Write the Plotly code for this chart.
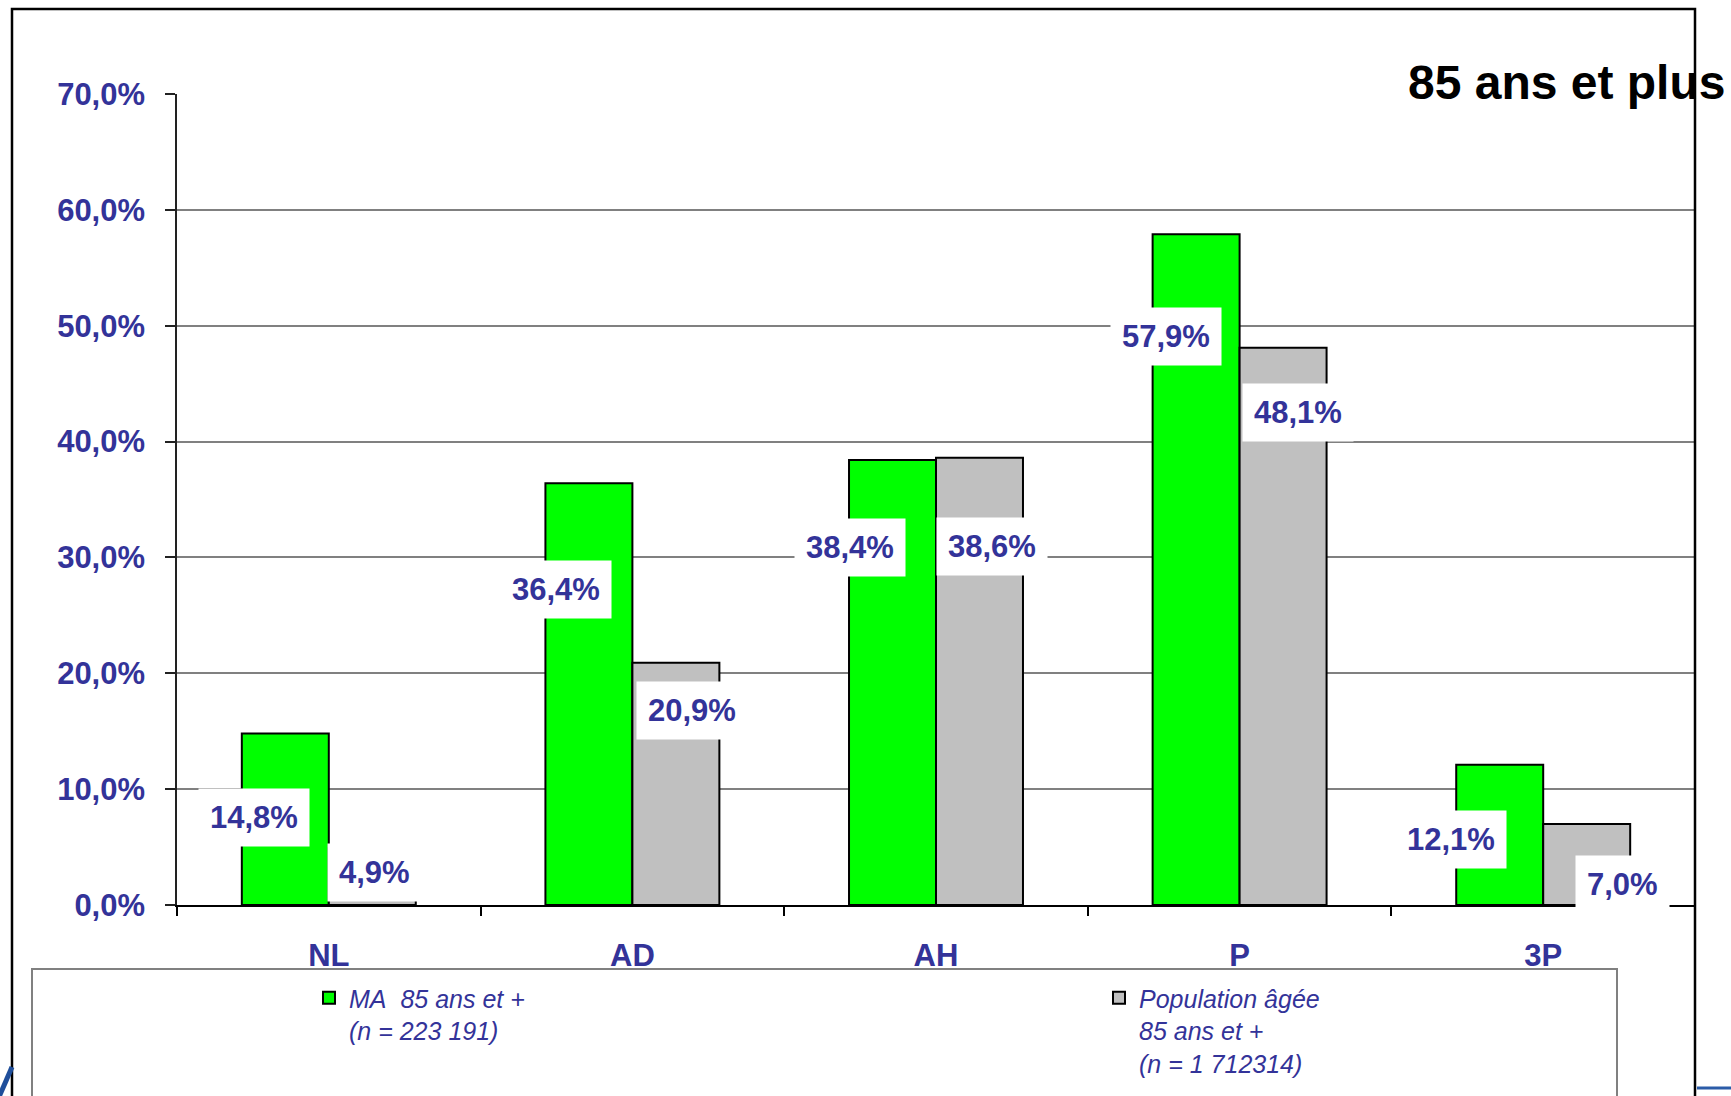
import plotly.graph_objects as go

# ---------------- data ----------------
categories = ["NL", "AD", "AH", "P", "3P"]
ma_85 = [14.8, 36.4, 38.4, 57.9, 12.1]          # MA 85 ans et +
pop_85 = [4.9, 20.9, 38.6, 48.1, 7.0]           # Population âgée 85 ans et +
series_names = [
    "MA\u00a0 85 ans et +<br>(n = 223 191)",
    "Population âgée<br>85 ans et +<br>(n = 1 712314)",
]
y_tick_values = [0, 10, 20, 30, 40, 50, 60, 70]
chart_title = "85 ans et plus"

# label placement (pixel offsets from the top of each bar's category centre)
ma_label_dx = [-75, -76, -86, -74, -92]
ma_label_dy = [-84, -106, -87, -102, -75]
pop_label_dx = [46, 60, 56, 58, 79]
pop_label_dy = [-24, -48, -89, -65, -61]

# ---------------- layout geometry ----------------
W, H = 1731, 1096
ML, MR, MT, MB = 177, 36, 94, 191
PW = W - ML - MR
PH = H - MT - MB


def px(x):
    return (x - ML) / PW


def py(y):
    return (H - MB - y) / PH


FONT = "Liberation Sans, Arial, sans-serif"
BLUE = "#333399"


def fmt(v):
    return f"{v:.1f}".replace(".", ",") + "%"


fig = go.Figure()
fig.add_trace(go.Bar(
    x=categories, y=ma_85, name=series_names[0],
    marker=dict(color="#00FF00", line=dict(color="black", width=2)),
    legend="legend",
))
fig.add_trace(go.Bar(
    x=categories, y=pop_85, name=series_names[1],
    marker=dict(color="#C0C0C0", line=dict(color="black", width=2)),
    legend="legend2",
))

annotations = []
for cat, v, dx, dy in zip(categories, ma_85, ma_label_dx, ma_label_dy):
    annotations.append(dict(
        x=cat, y=v, xref="x", yref="y", text=f"<b>{fmt(v)}</b>",
        showarrow=False, xshift=dx, yshift=dy,
        font=dict(family=FONT, size=31, color=BLUE),
        bgcolor="white", borderpad=11,
    ))
for cat, v, dx, dy in zip(categories, pop_85, pop_label_dx, pop_label_dy):
    annotations.append(dict(
        x=cat, y=v, xref="x", yref="y", text=f"<b>{fmt(v)}</b>",
        showarrow=False, xshift=dx, yshift=dy,
        font=dict(family=FONT, size=31, color=BLUE),
        bgcolor="white", borderpad=11,
    ))
annotations.append(dict(
    x=px(1406), y=py(82), xref="paper", yref="paper",
    xanchor="left", yanchor="middle", showarrow=False,
    text=f"<b>{chart_title}</b>",
    font=dict(family=FONT, size=48, color="black"),
))

shapes = [
    # outer slide frame
    dict(type="rect", xref="paper", yref="paper",
         x0=px(12), x1=px(1695), y0=py(9), y1=py(1160),
         line=dict(color="black", width=2.5), fillcolor="rgba(0,0,0,0)",
         layer="above"),
    # legend frame
    dict(type="rect", xref="paper", yref="paper",
         x0=px(32), x1=px(1617), y0=py(969), y1=py(1160),
         line=dict(color="#808080", width=2), fillcolor="rgba(0,0,0,0)",
         layer="above"),
    # fragments of slide decoration
    dict(type="line", xref="paper", yref="paper",
         x0=px(1697), x1=px(1735), y0=py(1088), y1=py(1088),
         line=dict(color="#2b5ca8", width=3)),
    dict(type="line", xref="paper", yref="paper",
         x0=px(-1), x1=px(12), y0=py(1097), y1=py(1067),
         line=dict(color="#1f4e9a", width=5)),
]

legend_common = dict(
    font=dict(family=FONT, size=25, color=BLUE, style="italic"),
    bgcolor="rgba(0,0,0,0)", borderwidth=0, valign="top",
    itemwidth=30, xanchor="left", yanchor="top",
    itemclick=False, itemdoubleclick=False,
)

fig.update_layout(
    width=W, height=H, autosize=False,
    margin=dict(l=ML, r=MR, t=MT, b=MB, pad=0, autoexpand=False),
    paper_bgcolor="white", plot_bgcolor="white",
    separators=", ",
    barmode="group", bargap=0.427, bargroupgap=0,
    showlegend=True,
    legend=dict(x=px(309), y=py(975), **legend_common),
    legend2=dict(x=px(1099), y=py(975), **legend_common),
    annotations=annotations,
    shapes=shapes,
    xaxis=dict(
        type="category", tickson="boundaries", ticks="outside",
        ticklen=9, tickwidth=1.5, tickcolor="black",
        showline=True, linecolor="black", linewidth=2,
        showgrid=False, ticklabelstandoff=22,
        tickfont=dict(family=FONT, size=31, color=BLUE, weight="bold"),
    ),
    yaxis=dict(
        range=[0, 70], tickvals=y_tick_values,
        ticktext=[fmt(v) for v in y_tick_values],
        showgrid=True, gridcolor="#808080", gridwidth=1.5,
        showline=True, linecolor="#222222", linewidth=1.5,
        ticks="outside", ticklen=10, tickwidth=1.5, tickcolor="#222222",
        zeroline=False, ticklabelstandoff=14,
        tickfont=dict(family=FONT, size=31, color=BLUE, weight="bold"),
    ),
)

fig.write_html("out.html")
